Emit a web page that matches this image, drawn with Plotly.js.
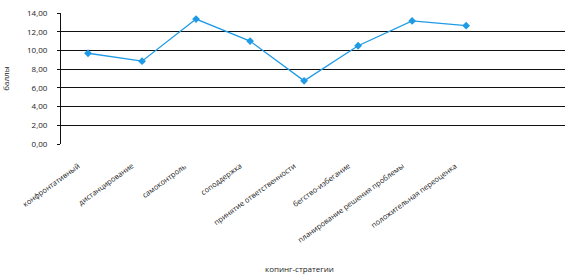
<!DOCTYPE html>
<html><head><meta charset="utf-8">
<script src="https://cdn.plot.ly/plotly-3.0.1.min.js"></script>
<style>html,body{margin:0;padding:0;background:#fff}#c{width:570px;height:277px}</style>
</head><body><div id="c"></div>
<script>
var categories = ["конфронтативный","дистанцирование","самоконтроль","соподдержка","принятие ответственности","бегство-избегание","планирование решения проблемы","положительная переоценка"];
var values = [9.7, 8.85, 13.35, 11.0, 6.75, 10.5, 13.15, 12.65];
var yTickVals = [0,2,4,6,8,10,12,14];
var yTickText = ["0,00","2,00","4,00","6,00","8,00","10,00","12,00","14,00"];
var yTitle = "баллы";
var xTitle = "копинг-стратегии";

var idx = categories.map(function(_, i){return i;});
var trace = {
  x: idx, y: values, type: 'scatter', mode: 'lines+markers',
  line: {color: '#1f9be6', width: 1.3},
  marker: {symbol: 'diamond', size: 6, color: '#1f9be6'},
  hoverinfo: 'skip'
};
var labelAnns = categories.map(function(c, i){
  return {
    text: c, xref: 'x', yref: 'y', x: i, y: 0,
    xanchor: 'right', yanchor: 'top', showarrow: false,
    textangle: -36, xshift: -4, yshift: -14,
    font: {size: 7.5, color: '#222'}
  };
});
var layout = {
  width: 570, height: 277,
  margin: {l: 61, r: 5, t: 13, b: 133},
  paper_bgcolor: '#fff', plot_bgcolor: '#fff',
  font: {family: 'Open Sans, DejaVu Sans, sans-serif', size: 8, color: '#222'},
  showlegend: false,
  xaxis: {
    range: [-0.5, 8.83], tickmode: 'array', tickvals: idx, showticklabels: false,
    showgrid: false, zeroline: false, showline: false, ticks: '', fixedrange: true
  },
  yaxis: {
    range: [0, 14], tickmode: 'array', tickvals: yTickVals, ticktext: yTickText,
    showgrid: true, gridcolor: '#111', gridwidth: 1.2, zeroline: false,
    showline: true, linecolor: '#111', linewidth: 1, ticks: 'outside', ticklen: 3, tickcolor: '#111',
    tickfont: {size: 8, color: '#222'}, ticklabelstandoff: 8,
    title: {text: yTitle, font: {size: 8, color: '#222'}, standoff: 18}, fixedrange: true
  },
  annotations: labelAnns.concat([{
    text: xTitle, xref: 'paper', yref: 'paper', x: 0.474, y: -0.95,
    xanchor: 'center', yanchor: 'middle', showarrow: false,
    font: {size: 8, color: '#222'}
  }])
};
Plotly.newPlot('c', [trace], layout, {displayModeBar: false, staticPlot: true});
</script></body></html>
